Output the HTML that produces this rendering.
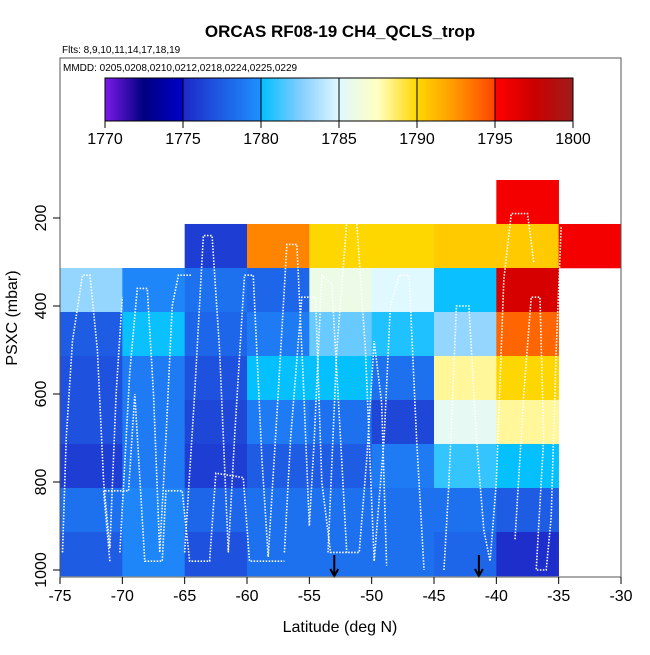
<!DOCTYPE html>
<html><head><meta charset="utf-8"><style>
body{margin:0;background:#fff;}
svg text{font-family:"Liberation Sans",Arial,sans-serif;}
</style></head><body>
<svg id="chart" width="650" height="650" viewBox="0 0 650 650" xmlns="http://www.w3.org/2000/svg">
<rect width="650" height="650" fill="#fff"/>
<g id="cells"></g>
<g id="tracks"></g>
<g id="arrows"></g>
<g id="legend"></g>
<rect x="60" y="58" width="561" height="519" fill="none" stroke="#555" stroke-width="1"/>
<g id="axes"></g>
<text x="340" y="37" text-anchor="middle" font-size="17" font-weight="bold">ORCAS RF08-19 CH4_QCLS_trop</text>
<text x="62" y="53" font-size="10">Flts: 8,9,10,11,14,17,18,19</text>
<text x="340" y="632" text-anchor="middle" font-size="16">Latitude (deg N)</text>
<text transform="translate(17,318) rotate(-90)" text-anchor="middle" font-size="16">PSXC (mbar)</text>
</svg>
<script>
const latEdges=[-75,-70,-65,-60,-55,-50,-45,-40,-35,-30];
const pTop=[113.6,213.6,313.6,413.6,513.6,613.6,713.6,813.6,913.6];
// values[row][col]; null = no data
const values=[
[null,null,null,null,null,null,null,1795.5,null],
[null,null,1776,1793,1790,1790,1790.5,1790.5,1795.5],
[1783,1779.5,1778.5,1778,1786,1785,1780.2,1797,null],
[1777.5,1780.2,1778,1779,1782,1780.6,1783,1794,null],
[1777,1779,1777,1780.1,1780.1,1778.5,1788,1790,null],
[1777,1779,1776.5,1779,1778.5,1776.5,1785.5,1788,null],
[1776,1779,1776,1777.5,1777.5,1779,1781,1780.1,null],
[1778.5,1779.5,1778,1778.5,1778.5,1778.5,1778.5,1777.5,null],
[1777.5,1779.5,1777,1778.5,1778.5,1778.5,1778,1775.3,null]];
const xTicks=[-75,-70,-65,-60,-55,-50,-45,-40,-35,-30];
const yTicks=[200,400,600,800,1000];
const cbTicks=[1770,1775,1780,1785,1790,1795,1800];
const arrowLats=[-53,-41.4];
const trackA=[[-74.8,960],[-74.5,700],[-74,480],[-73.2,330],[-72.6,330],[-72,500],[-71.5,800],[-71,950],[-70.5,600],[-70,380]];
const trackB=[[-70.2,960],[-69.4,550],[-68.8,360],[-68,360],[-67.5,600],[-67,960],[-66.5,700],[-66,400],[-65.5,330],[-64.5,330]];
const trackC=[[-65,960],[-64.2,600],[-63.5,240],[-62.8,240],[-62.2,500],[-61.5,960],[-61,700],[-60.2,330],[-59.5,330],[-58.8,750],[-58.3,970]];
const trackD=[[-58.3,970],[-57.5,600],[-56.8,260],[-56,260],[-55.5,560],[-55,900],[-54.6,700],[-54,330],[-53.2,350],[-52.5,700],[-52,960]];
const trackE=[[-53.5,960],[-52.8,500],[-52,210],[-51.2,210],[-50.5,500],[-49.8,980],[-49,700],[-48.5,400],[-47.8,330],[-47,330],[-46.4,700],[-45.8,1000]];
const trackF=[[-44.2,1000],[-43.8,800],[-43.2,400],[-42.2,400],[-41.6,700],[-41,910],[-40.5,980],[-40,800],[-39.4,340],[-38.8,190],[-37.5,190],[-37,300]];
const trackG=[[-38.5,930],[-37.8,600],[-37.2,380],[-36.5,380],[-36.2,700],[-36.8,1000],[-36,1000],[-35.6,880],[-35.2,500],[-34.8,220]];
const trackH=[[-71,980],[-71.5,820],[-69.5,820],[-69,600],[-68.2,980],[-66.8,980],[-66.5,820],[-65.2,820],[-64.6,980],[-63,980],[-62.5,780],[-60.3,790],[-59.8,980],[-57,980]];
const trackI=[[-57,960],[-56.5,700],[-55.6,380],[-54.5,380],[-54,800],[-53.3,960],[-51,960],[-50.4,750],[-49.8,480],[-49.2,620],[-48.8,990]];
const tracks=[trackA,trackB,trackC,trackD,trackE,trackF,trackG,trackH,trackI];

const X0=60,X1=621,Y200=218,PPM=0.44;
const xS=l=>X0+(l+75)/45*(X1-X0);
const yS=p=>Y200+(p-200)*PPM;
const stops=[[1770,[122,27,232]],[1772.5,[0,0,128]],[1775,[0,0,200]],[1775.01,[30,40,200]],[1780,[30,144,255]],[1780.01,[0,191,255]],[1782.5,[130,205,255]],[1785,[224,248,255]],[1787.5,[255,255,192]],[1790,[255,215,0]],[1792,[255,165,0]],[1794.99,[255,69,0]],[1795,[255,0,0]],[1797.5,[204,0,0]],[1800,[160,28,28]]];
function col(v){
  if(v<=stops[0][0])return 'rgb('+stops[0][1]+')';
  for(let i=1;i<stops.length;i++){if(v<=stops[i][0]){const a=stops[i-1],b=stops[i],t=(v-a[0])/(b[0]-a[0]);
    return 'rgb('+a[1].map((c,k)=>Math.round(c+(b[1][k]-c)*t)).join(',')+')';}}
  return 'rgb('+stops[stops.length-1][1]+')';
}
const NS='http://www.w3.org/2000/svg';
function mk(tag,attrs,parent){const e=document.createElementNS(NS,tag);for(const k in attrs)e.setAttribute(k,attrs[k]);parent.appendChild(e);return e;}
const cells=document.getElementById('cells');
values.forEach((row,r)=>row.forEach((v,c)=>{
  if(v===null)return;
  const x=xS(latEdges[c]),w=xS(latEdges[c+1])-x,y=yS(pTop[r]),h=yS(pTop[r]+100)-y;
  const e=mk('rect',{x:x,y:y,width:w+0.3,height:h+0.3,fill:col(v)},cells);
  
  
}));
const tg=document.getElementById('tracks');
tracks.forEach(t=>{
  const e=mk('polyline',{points:t.map(q=>xS(q[0])+','+yS(q[1])).join(' '),fill:'none',stroke:'#fff','stroke-width':1.6,'stroke-dasharray':'1.5 1.5'},tg);
  
  
});
const ag=document.getElementById('arrows');
arrowLats.forEach(l=>{
  const x=xS(l);
  const e=mk('path',{d:`M${x},555 L${x},576 M${x-4},569 L${x},576 L${x+4},569`,stroke:'#000','stroke-width':2,fill:'none'},ag);
  
  
});
const lg=document.getElementById('legend');
const CB0=105,CB1=573;
const cx=v=>CB0+(v-1770)/30*(CB1-CB0);
for(let i=0;i<234;i++){const v=1770+30*(i+0.5)/234;mk('rect',{x:CB0+i*2,y:78,width:2.2,height:43,fill:col(v)},lg);}
mk('rect',{x:CB0,y:78,width:CB1-CB0,height:43,fill:'none',stroke:'#000'},lg);
cbTicks.forEach(v=>{
  mk('line',{x1:cx(v),x2:cx(v),y1:78,y2:128,stroke:'#000','stroke-width':1},lg);
  const t=mk('text',{x:cx(v),y:144,'text-anchor':'middle','font-size':16},lg);t.textContent=v;
  
  
});
const mm=mk('text',{x:63,y:71,'font-size':10},lg);mm.textContent='MMDD: 0205,0208,0210,0212,0218,0224,0225,0229';
const ax=document.getElementById('axes');
xTicks.forEach(v=>{
  mk('line',{x1:xS(v),x2:xS(v),y1:577,y2:584,stroke:'#000'},ax);
  const t=mk('text',{x:xS(v),y:601,'text-anchor':'middle','font-size':16},ax);t.textContent=v;
  
  
});
yTicks.forEach(v=>{
  mk('line',{x1:53,x2:60,y1:yS(v),y2:yS(v),stroke:'#000'},ax);
  const t=mk('text',{transform:`translate(46,${yS(v)}) rotate(-90)`,'text-anchor':'middle','font-size':16},ax);t.textContent=v;
  
  
});
</script>
</body></html>
